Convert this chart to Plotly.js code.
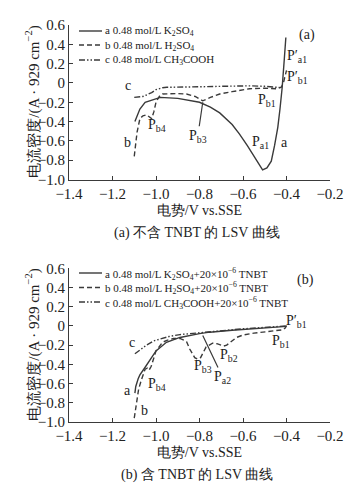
<!DOCTYPE html>
<html>
<head>
<meta charset="utf-8">
<script src="https://cdn.plot.ly/plotly-3.0.1.min.js"></script>
<style>html,body{margin:0;padding:0;background:#fff;}#chart{width:359px;height:493px;}</style>
</head>
<body>
<div id="chart"></div>
<script>
// ---- Panel (a): without TNBT ----
const aK2SO4_x = [-1.097, -1.08, -1.074, -1.05, -1.0, -0.98, -0.9, -0.8, -0.75, -0.707, -0.65, -0.616, -0.58, -0.556, -0.53, -0.51, -0.49, -0.47, -0.455, -0.44, -0.43, -0.42, -0.41, -0.405, -0.403];
const aK2SO4_y = [-0.40, -0.30, -0.27, -0.20, -0.16, -0.15, -0.16, -0.20, -0.25, -0.31, -0.43, -0.53, -0.65, -0.74, -0.84, -0.90, -0.88, -0.81, -0.65, -0.46, -0.27, -0.05, 0.25, 0.44, 0.47];
const aH2SO4_x = [-1.10, -1.095, -1.087, -1.074, -1.06, -1.044, -1.03, -1.02, -1.01, -1.0, -0.985, -0.97, -0.9, -0.86, -0.82, -0.785, -0.75, -0.707, -0.65, -0.57, -0.5, -0.447, -0.425, -0.415, -0.41, -0.405, -0.40];
const aH2SO4_y = [-0.76, -0.67, -0.51, -0.37, -0.34, -0.33, -0.355, -0.37, -0.30, -0.20, -0.14, -0.115, -0.11, -0.115, -0.14, -0.185, -0.15, -0.115, -0.09, -0.06, -0.055, -0.06, -0.045, -0.01, 0.04, 0.09, 0.13];
const aCH3COOH_x = [-1.10, -1.06, -1.044, -1.02, -1.0, -0.97, -0.95, -0.9, -0.8, -0.7, -0.57, -0.5, -0.432, -0.42];
const aCH3COOH_y = [-0.15, -0.14, -0.125, -0.10, -0.07, -0.05, -0.045, -0.045, -0.04, -0.035, -0.03, -0.035, -0.045, -0.05];

// ---- Panel (b): with TNBT ----
const bK2SO4_x = [-1.097, -1.093, -1.082, -1.074, -1.05, -1.02, -1.0, -0.952, -0.89, -0.8, -0.753, -0.65, -0.55, -0.45, -0.40];
const bK2SO4_y = [-0.70, -0.63, -0.55, -0.51, -0.43, -0.33, -0.26, -0.17, -0.12, -0.08, -0.065, -0.045, -0.03, -0.015, -0.005];
const bH2SO4_x = [-1.10, -1.095, -1.087, -1.08, -1.067, -1.05, -1.04, -1.032, -1.022, -1.012, -1.0, -0.97, -0.95, -0.92, -0.89, -0.86, -0.845, -0.822, -0.81, -0.795, -0.77, -0.74, -0.72, -0.70, -0.69, -0.675, -0.66, -0.63, -0.60, -0.55, -0.49, -0.45, -0.417, -0.405, -0.40];
const bH2SO4_y = [-0.96, -0.88, -0.77, -0.66, -0.56, -0.45, -0.44, -0.46, -0.42, -0.34, -0.26, -0.17, -0.15, -0.13, -0.13, -0.16, -0.24, -0.33, -0.345, -0.33, -0.22, -0.18, -0.185, -0.20, -0.21, -0.20, -0.17, -0.12, -0.095, -0.075, -0.06, -0.045, -0.04, -0.02, 0.005];
const bCH3COOH_x = [-1.097, -1.07, -1.044, -1.01, -0.98, -0.94, -0.89, -0.8, -0.7, -0.6, -0.5, -0.4];
const bCH3COOH_y = [-0.29, -0.24, -0.20, -0.155, -0.135, -0.11, -0.09, -0.07, -0.045, -0.03, -0.015, 0.0];

const seriesNamesA = ["a 0.48 mol/L K<sub>2</sub>SO<sub>4</sub>", "b 0.48 mol/L H<sub>2</sub>SO<sub>4</sub>", "c 0.48 mol/L CH<sub>3</sub>COOH"];
const seriesNamesB = ["a 0.48 mol/L K<sub>2</sub>SO<sub>4</sub>+20×10<sup>−6</sup> TNBT", "b 0.48 mol/L H<sub>2</sub>SO<sub>4</sub>+20×10<sup>−6</sup> TNBT", "c 0.48 mol/L CH<sub>3</sub>COOH+20×10<sup>−6</sup> TNBT"];

const xTickVals = [-1.4, -1.2, -1.0, -0.8, -0.6, -0.4, -0.2];
const xTickText = ["−1.4", "−1.2", "−1.0", "−0.8", "−0.6", "−0.4", "−0.2"];
const yTickVals = [-1.0, -0.8, -0.6, -0.4, -0.2, 0, 0.2, 0.4, 0.6];
const yTickText = ["−1.0", "−0.8", "−0.6", "−0.4", "−0.2", "0", "0.2", "0.4", "0.6"];

const W = 359, H = 493;
const FONT = "Liberation Serif";
const INK = "#3a3a3a";
const TXT = "#222";
const dashB = "5px,3px";
const dashC = "6px,2px,1.5px,2px,1.5px,2px";
const dashes = ["solid", dashB, dashC];
const yTitle = "电流密度/(A · 929 cm<sup>−2</sup>)";

function tr(x, y, name, dash, xa, ya) {
  return {x: x, y: y, name: name, type: "scatter", mode: "lines", xaxis: xa, yaxis: ya,
    line: {color: INK, width: 1.4, dash: dash}, hoverinfo: "skip", showlegend: false};
}

const data = [
  tr(aK2SO4_x, aK2SO4_y, seriesNamesA[0], dashes[0], "x", "y"),
  tr(aH2SO4_x, aH2SO4_y, seriesNamesA[1], dashes[1], "x", "y"),
  tr(aCH3COOH_x, aCH3COOH_y, seriesNamesA[2], dashes[2], "x", "y"),
  tr(bK2SO4_x, bK2SO4_y, seriesNamesB[0], dashes[0], "x2", "y2"),
  tr(bH2SO4_x, bH2SO4_y, seriesNamesB[1], dashes[1], "x2", "y2"),
  tr(bCH3COOH_x, bCH3COOH_y, seriesNamesB[2], dashes[2], "x2", "y2")
];

const xdom = [69 / W, 330 / W];
const yA = [1 - 179.5 / H, 1 - 25 / H];
const yB = [1 - 422 / H, 1 - 268.3 / H];

function xax(anchor) {
  return {domain: xdom, anchor: anchor, range: [-1.4, -0.2], tickvals: xTickVals, ticktext: xTickText,
    showline: true, linecolor: INK, linewidth: 1, ticks: "inside", ticklen: 4, tickcolor: INK,
    showgrid: false, zeroline: false, tickfont: {family: FONT, size: 15, color: TXT},
    title: {text: "电势/V vs.SSE", font: {family: FONT, size: 14, color: TXT}, standoff: 4}};
}
function yax(dom, anchor) {
  return {domain: dom, anchor: anchor, range: [-1.0, 0.6], tickvals: yTickVals, ticktext: yTickText,
    showline: true, linecolor: INK, linewidth: 1, ticks: "inside", ticklen: 4, tickcolor: INK,
    showgrid: false, zeroline: false, tickfont: {family: FONT, size: 15, color: TXT},
    title: {text: ""}};
}

function lab(text, px, py, size, xanchor) {
  return {text: text, xref: "paper", yref: "paper", x: px / W, y: 1 - py / H, showarrow: false,
    font: {family: FONT, size: size || 14, color: TXT}, xanchor: xanchor || "center", yanchor: "middle"};
}
function vlab(text, px, py) {
  const a = lab(text, px, py, 15);
  a.textangle = -90;
  return a;
}
function callout(text, xv, yv, ax, ay, xr, yr) {
  return {text: text, xref: xr, yref: yr, x: xv, y: yv, ax: ax, ay: ay, showarrow: true, arrowhead: 0,
    arrowwidth: 1.2, arrowcolor: INK, standoff: 0, startstandoff: 0,
    font: {family: FONT, size: 14, color: TXT}};
}

const annotations = [
  vlab(yTitle, 33, 101.7), vlab(yTitle, 33, 344.7),
  lab("(a)", 306.7, 35), lab("P′<sub>a1</sub>", 297, 57), lab("P′<sub>b1</sub>", 297, 78),
  lab("P<sub>b1</sub>", 267, 100), lab("P<sub>a1</sub>", 260, 143), lab("a", 284, 142),
  lab("P<sub>b4</sub>", 157, 125), lab("c", 128, 86), lab("b", 127, 142),
  callout("P<sub>b3</sub>", -0.785, -0.2, -5, 34, "x", "y"),
  lab("(a) 不含 TNBT 的 LSV 曲线", 197, 233),
  lab("(b)", 305, 280), lab("P′<sub>b1</sub>", 296, 321), lab("P<sub>b1</sub>", 281, 341),
  lab("P<sub>b2</sub>", 229, 355), lab("P<sub>b3</sub>", 203, 366), lab("c", 132, 342),
  lab("P<sub>b4</sub>", 157, 384), lab("a", 127, 390), lab("b", 144, 410),
  callout("P<sub>a2</sub>", -0.785, -0.10, 20, 42, "x2", "y2"),
  lab("(b) 含 TNBT 的 LSV 曲线", 197, 475)
];

// hand-built legends (key line + label), since Plotly's legend rows cannot be packed this tightly
const legRowsA = [31, 45, 60];
const legRowsB = [273, 287.5, 302];
const shapes = [];
function addLegend(names, rows) {
  names.forEach(function (n, i) {
    shapes.push({type: "line", xref: "paper", yref: "paper", x0: 79 / W, x1: 102 / W,
      y0: 1 - rows[i] / H, y1: 1 - rows[i] / H, line: {color: INK, width: 1.4, dash: dashes[i]}});
    annotations.push(lab(n, 103, rows[i] + 0.5, 11, "left"));
  });
}
addLegend(seriesNamesA, legRowsA);
addLegend(seriesNamesB, legRowsB);

const layout = {
  width: W, height: H, margin: {l: 0, r: 0, t: 0, b: 0},
  paper_bgcolor: "#fff", plot_bgcolor: "rgba(0,0,0,0)",
  xaxis: xax("y"), yaxis: yax(yA, "x"),
  xaxis2: xax("y2"), yaxis2: yax(yB, "x2"),
  showlegend: false,
  annotations: annotations, shapes: shapes
};

Plotly.newPlot("chart", data, layout, {displayModeBar: false, staticPlot: true});
</script>
</body>
</html>
